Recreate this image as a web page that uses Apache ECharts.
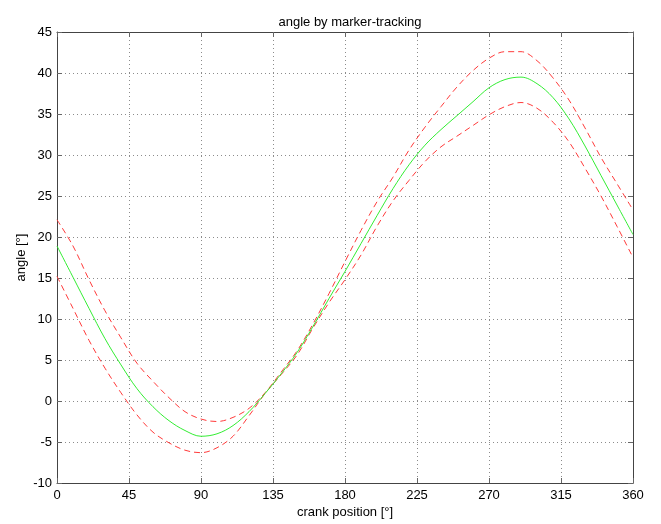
<!DOCTYPE html>
<html>
<head>
<meta charset="utf-8">
<script src="https://cdn.jsdelivr.net/npm/echarts@6/dist/echarts.min.js"></script>
<style>html,body{margin:0;padding:0;background:#fff}#c{width:661px;height:524px}</style>
</head>
<body>
<div id="c"></div>
<script>
const angles = [0,10,20,30,40,50,60,70,80,90,100,110,120,130,140,150,160,170,180,190,200,210,220,230,240,250,260,270,280,290,300,310,320,330,340,350,360];
const meanAngle = [18.9,15.1,11.3,7.6,4.4,1.5,-0.7,-2.4,-3.6,-4.3,-4.0,-3.0,-1.3,0.9,3.3,5.9,9.1,12.5,15.8,19.2,22.6,25.9,28.8,31.2,33.1,34.8,36.5,38.2,39.2,39.5,38.7,37.0,34.4,31.1,27.5,23.9,20.3];
const upperAngle = [22.1,18.9,14.8,11.0,7.7,4.6,2.4,0.4,-1.3,-2.2,-2.5,-2.0,-0.9,1.0,3.5,6.1,9.4,13.1,17.0,20.8,24.3,27.3,30.6,33.4,35.9,38.3,40.3,41.8,42.6,42.6,41.5,39.4,36.7,33.3,29.7,26.5,23.3];
const lowerAngle = [15.2,11.3,7.4,4.0,1.0,-1.7,-3.8,-5.1,-6.0,-6.3,-5.7,-4.3,-1.8,0.9,3.2,5.6,8.9,12.0,14.8,17.8,21.3,24.4,26.9,29.2,31.0,32.3,33.6,34.9,35.9,36.4,35.7,34.0,31.6,28.4,25.0,21.3,17.5];
const xTicks = [0,45,90,135,180,225,270,315,360];
const yTicks = [-10,-5,0,5,10,15,20,25,30,35,40,45];

const pair = (ys) => angles.map((a, i) => [a, ys[i]]);
const font = 'Liberation Sans, Arial, sans-serif';
const chart = echarts.init(document.getElementById('c'), null, {renderer: 'canvas'});
const gridLine = {show: true, lineStyle: {color: '#8c8c8c', type: [1, 3], width: 1}};
const boxLine = {show: true, onZero: false, lineStyle: {color: '#444', width: 1}};
const tick = {show: true, inside: true, length: 5, lineStyle: {color: '#666'}};
chart.setOption({
  animation: false,
  backgroundColor: '#ffffff',
  title: {text: 'angle by marker-tracking', left: 345, top: 11, textAlign: 'center',
    textStyle: {fontFamily: font, fontSize: 13, fontWeight: 'normal', color: '#000'}},
  grid: {left: 57, right: 28, top: 32, bottom: 36, containLabel: false},
  xAxis: [{
    type: 'value', min: xTicks[0], max: xTicks[xTicks.length - 1], interval: 45,
    name: 'crank position [°]', nameLocation: 'middle', nameGap: 23, nameMoveOverlap: false,
    nameTextStyle: {fontFamily: font, fontSize: 13, color: '#000'},
    axisLine: boxLine, axisTick: tick,
    axisLabel: {fontFamily: font, fontSize: 13, color: '#000', margin: 6},
    splitLine: gridLine
  }, {
    type: 'value', position: 'top', min: xTicks[0], max: xTicks[xTicks.length - 1], interval: 45,
    axisLine: boxLine, axisTick: tick,
    axisLabel: {show: false}, splitLine: {show: false}
  }],
  yAxis: [{
    type: 'value', min: yTicks[0], max: yTicks[yTicks.length - 1], interval: 5,
    name: 'angle [°]', nameLocation: 'middle', nameGap: 29, nameRotate: 90, nameMoveOverlap: false,
    nameTextStyle: {fontFamily: font, fontSize: 13, color: '#000'},
    axisLine: boxLine, axisTick: tick,
    axisLabel: {fontFamily: font, fontSize: 13, color: '#000', margin: 5},
    splitLine: gridLine
  }, {
    type: 'value', position: 'right', min: yTicks[0], max: yTicks[yTicks.length - 1], interval: 5,
    axisLine: boxLine, axisTick: tick,
    axisLabel: {show: false}, splitLine: {show: false}
  }],
  series: [
    {name: 'upper', type: 'line', data: pair(upperAngle), smooth: 0.35, symbol: 'none',
      lineStyle: {color: '#ff3a3a', width: 1, type: [6, 4]}},
    {name: 'lower', type: 'line', data: pair(lowerAngle), smooth: 0.35, symbol: 'none',
      lineStyle: {color: '#ff3a3a', width: 1, type: [6, 4]}},
    {name: 'mean', type: 'line', data: pair(meanAngle), smooth: 0.35, symbol: 'none',
      lineStyle: {color: '#33ee33', width: 1}}
  ]
});
</script>
</body>
</html>
